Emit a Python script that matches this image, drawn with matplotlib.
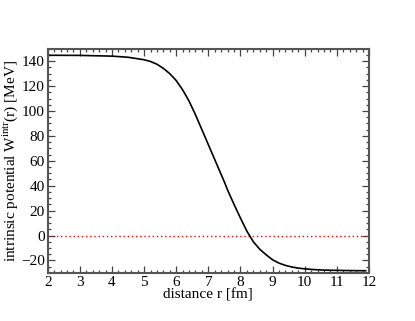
import matplotlib
matplotlib.use("Agg")
import matplotlib.pyplot as plt
from matplotlib.ticker import MultipleLocator

# values
r_fm = [2.0, 3.0, 4.0, 4.5, 5.0, 5.2, 5.4, 5.6, 5.8, 6.0, 6.2, 6.4, 6.6,
        6.8, 7.0, 7.2, 7.4, 7.5, 7.6, 7.8, 8.0, 8.2, 8.4, 8.6, 8.8, 9.0,
        9.2, 9.4, 9.6, 9.8, 10.0, 10.3, 10.6, 11.0, 11.5, 11.9]
w_intr = [144.8, 144.7, 144.1, 143.2, 141.2, 139.8, 137.6, 134.3, 130.0,
          124.5, 117.0, 108.0, 97.0, 85.0, 73.0, 61.0, 49.0, 43.0, 36.5,
          25.0, 14.0, 3.5, -5.0, -11.0, -15.5, -19.5, -22.2, -24.0, -25.3,
          -26.2, -26.8, -27.4, -27.8, -28.0, -28.2, -28.3]
zero_x = [2, 12]
zero_y = [0, 0]

plt.rcParams['font.family'] = ['Liberation Serif', 'DejaVu Serif']
plt.rcParams['mathtext.fontset'] = 'custom'
plt.rcParams['mathtext.rm'] = 'Liberation Serif'

fig = plt.figure(figsize=(4.15, 3.21), dpi=100)
ax = fig.add_axes([0.115, 0.150, 0.774, 0.698])

ax.plot(zero_x, zero_y, color='red', linestyle=(0, (1, 2)), linewidth=1.0)
ax.plot(r_fm, w_intr, color='black', linewidth=1.2)

ax.set_xlim(2, 12)
ax.set_ylim(-30, 150)
ax.xaxis.set_major_locator(MultipleLocator(1))
ax.xaxis.set_minor_locator(MultipleLocator(0.2))
ax.yaxis.set_major_locator(MultipleLocator(20))
ax.yaxis.set_minor_locator(MultipleLocator(5))
ax.tick_params(which='both', direction='in', top=True, right=True,
               labelsize=11, pad=2, color='#444444')
ax.tick_params(which='major', length=5, width=0.9)
ax.tick_params(which='minor', length=2.5, width=0.9)
for s in ax.spines.values():
    s.set_linewidth(1.5)
    s.set_color('#555555')

ax.set_xlabel("distance r [fm]", fontsize=11, labelpad=0)
ax.set_ylabel(r"intrinsic potential W$^{\mathrm{intr}}$(r) [MeV]",
              fontsize=11, labelpad=1)

fig.savefig("out.png", dpi=100)
